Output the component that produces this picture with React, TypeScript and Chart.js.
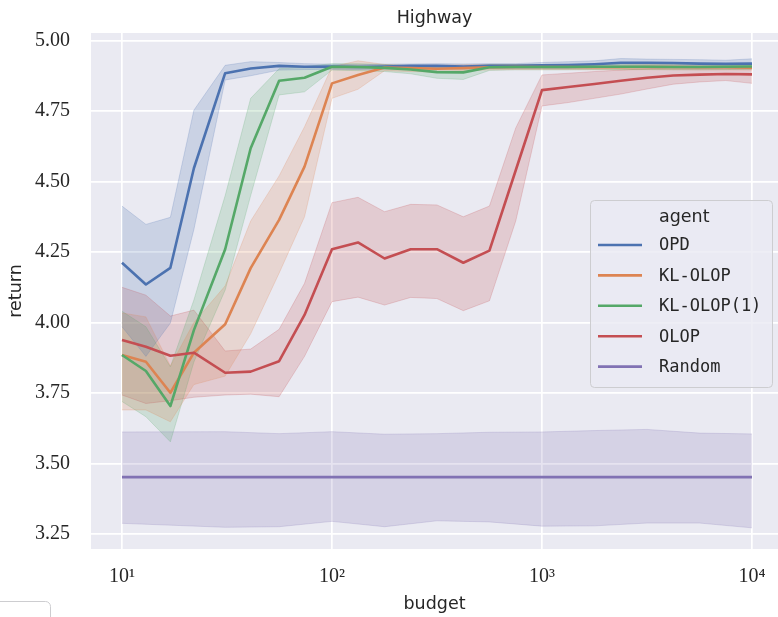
import { useEffect, useRef } from "react";
import { Chart, registerables } from "chart.js";

Chart.register(...registerables);

// ---------- data ----------
const BUDGET = [10, 13, 17, 22, 31, 41, 56, 74, 100, 133, 178, 237, 316, 422, 562, 750, 1000, 1334, 1778, 2371, 3162, 4217, 5623, 7499, 10000];

const OPD_MEAN = [4.212, 4.135, 4.194, 4.547, 4.884, 4.901, 4.910, 4.907, 4.908, 4.906, 4.908, 4.910, 4.910, 4.908, 4.910, 4.910, 4.912, 4.913, 4.916, 4.921, 4.921, 4.920, 4.918, 4.917, 4.918];
const OPD_UPPER = [4.413, 4.348, 4.373, 4.753, 4.912, 4.925, 4.922, 4.918, 4.916, 4.914, 4.916, 4.917, 4.918, 4.917, 4.918, 4.918, 4.922, 4.925, 4.928, 4.936, 4.934, 4.933, 4.932, 4.930, 4.935];
const OPD_LOWER = [3.985, 3.880, 3.998, 4.330, 4.860, 4.875, 4.895, 4.897, 4.898, 4.897, 4.899, 4.902, 4.902, 4.899, 4.902, 4.902, 4.902, 4.902, 4.904, 4.906, 4.907, 4.906, 4.904, 4.903, 4.902];

const KLOLOP_MEAN = [3.885, 3.861, 3.751, 3.893, 3.994, 4.193, 4.364, 4.553, 4.848, 4.878, 4.904, 4.902, 4.900, 4.902, 4.905, 4.906, 4.906, 4.906, 4.905, 4.905, 4.906, 4.906, 4.905, 4.905, 4.904];
const KLOLOP_UPPER = [4.034, 4.020, 3.846, 4.000, 4.130, 4.360, 4.520, 4.694, 4.907, 4.928, 4.915, 4.912, 4.912, 4.914, 4.915, 4.915, 4.914, 4.914, 4.913, 4.913, 4.914, 4.914, 4.913, 4.913, 4.912];
const KLOLOP_LOWER = [3.690, 3.690, 3.648, 3.780, 3.810, 3.960, 4.175, 4.375, 4.795, 4.827, 4.893, 4.890, 4.888, 4.892, 4.896, 4.897, 4.897, 4.897, 4.896, 4.896, 4.897, 4.897, 4.896, 4.896, 4.895];

const KLOLOP1_MEAN = [3.885, 3.828, 3.704, 3.973, 4.260, 4.618, 4.857, 4.868, 4.907, 4.906, 4.903, 4.897, 4.888, 4.887, 4.905, 4.906, 4.906, 4.906, 4.907, 4.907, 4.907, 4.906, 4.906, 4.907, 4.908];
const KLOLOP1_UPPER = [4.040, 3.985, 3.843, 4.080, 4.450, 4.795, 4.900, 4.907, 4.918, 4.918, 4.915, 4.910, 4.905, 4.905, 4.915, 4.915, 4.915, 4.915, 4.916, 4.916, 4.916, 4.915, 4.915, 4.916, 4.917];
const KLOLOP1_LOWER = [3.720, 3.666, 3.577, 3.860, 4.115, 4.450, 4.807, 4.818, 4.895, 4.893, 4.890, 4.882, 4.866, 4.862, 4.894, 4.896, 4.896, 4.896, 4.897, 4.897, 4.897, 4.896, 4.896, 4.897, 4.898];

const OLOP_MEAN = [3.938, 3.914, 3.882, 3.893, 3.822, 3.826, 3.863, 4.027, 4.260, 4.284, 4.227, 4.260, 4.260, 4.212, 4.255, 4.540, 4.824, 4.835, 4.846, 4.857, 4.868, 4.876, 4.879, 4.881, 4.880];
const OLOP_UPPER = [4.125, 4.097, 4.023, 4.044, 3.899, 3.906, 3.976, 4.139, 4.425, 4.444, 4.393, 4.419, 4.417, 4.375, 4.413, 4.690, 4.878, 4.884, 4.890, 4.895, 4.900, 4.905, 4.906, 4.906, 4.905];
const OLOP_LOWER = [3.743, 3.713, 3.723, 3.735, 3.743, 3.746, 3.737, 3.880, 4.074, 4.090, 4.062, 4.089, 4.085, 4.042, 4.077, 4.360, 4.768, 4.780, 4.795, 4.810, 4.828, 4.845, 4.853, 4.858, 4.848];

const RANDOM_BUDGET = [10, 31, 56, 100, 178, 316, 562, 1000, 1778, 3162, 5623, 10000];
const RANDOM_MEAN = [3.452, 3.452, 3.452, 3.452, 3.452, 3.452, 3.452, 3.452, 3.452, 3.452, 3.452, 3.452];
const RANDOM_UPPER = [3.612, 3.613, 3.606, 3.613, 3.604, 3.606, 3.611, 3.612, 3.617, 3.621, 3.608, 3.605];
const RANDOM_LOWER = [3.288, 3.274, 3.276, 3.295, 3.276, 3.297, 3.293, 3.278, 3.279, 3.289, 3.289, 3.272];

const AGENTS = ["OPD", "KL-OLOP", "KL-OLOP(1)", "OLOP", "Random"];
const X_TICKS = [10, 100, 1000, 10000];
const X_TICK_LABELS = ["10¹", "10²", "10³", "10⁴"];
const Y_TICKS = [3.25, 3.5, 3.75, 4.0, 4.25, 4.5, 4.75, 5.0];

// ---------- styling ----------
const COLORS = ["76,114,176", "221,132,82", "85,168,104", "196,78,82", "129,114,179"];
const TEXT = "#262626";
const BG = "#EAEAF2";

const SERIES = [
  { name: AGENTS[0], x: BUDGET, mean: OPD_MEAN, upper: OPD_UPPER, lower: OPD_LOWER, color: COLORS[0] },
  { name: AGENTS[1], x: BUDGET, mean: KLOLOP_MEAN, upper: KLOLOP_UPPER, lower: KLOLOP_LOWER, color: COLORS[1] },
  { name: AGENTS[2], x: BUDGET, mean: KLOLOP1_MEAN, upper: KLOLOP1_UPPER, lower: KLOLOP1_LOWER, color: COLORS[2] },
  { name: AGENTS[3], x: BUDGET, mean: OLOP_MEAN, upper: OLOP_UPPER, lower: OLOP_LOWER, color: COLORS[3] },
  { name: AGENTS[4], x: RANDOM_BUDGET, mean: RANDOM_MEAN, upper: RANDOM_UPPER, lower: RANDOM_LOWER, color: COLORS[4] },
];

const pts = (xs: number[], ys: number[]) => xs.map((x, i) => ({ x, y: ys[i] }));

export default function App() {
  const ref = useRef<HTMLCanvasElement>(null);

  useEffect(() => {
    if (!ref.current) return;

    const bgPlugin = {
      id: "bgArea",
      beforeDraw(chart: any) {
        const { ctx, chartArea } = chart;
        ctx.save();
        ctx.fillStyle = BG;
        ctx.fillRect(chartArea.left, chartArea.top, chartArea.right - chartArea.left, chartArea.bottom - chartArea.top);
        ctx.restore();
      },
    };

    const legendPlugin = {
      id: "legendBox",
      afterDraw(chart: any) {
        const ctx = chart.ctx as CanvasRenderingContext2D;
        ctx.save();
        // legend frame
        ctx.beginPath();
        (ctx as any).roundRect(590.5, 200.5, 182, 187, 4);
        ctx.fillStyle = "rgba(234,234,242,0.8)";
        ctx.fill();
        ctx.strokeStyle = "#CDCDD0";
        ctx.lineWidth = 1;
        ctx.stroke();

        ctx.fillStyle = TEXT;
        ctx.textBaseline = "middle";
        ctx.textAlign = "left";
        ctx.font = "17.5px 'DejaVu Sans'";
        ctx.fillText("agent", 659, 217);

        ctx.font = "17px 'DejaVu Sans Mono'";
        AGENTS.forEach((name, i) => {
          const y = 245 + i * 30.4;
          ctx.strokeStyle = `rgb(${COLORS[i]})`;
          ctx.lineWidth = 2.6;
          ctx.lineCap = "butt";
          ctx.beginPath();
          ctx.moveTo(598, y);
          ctx.lineTo(642, y);
          ctx.stroke();
          ctx.fillStyle = TEXT;
          ctx.fillText(name, 659, y + 1);
        });

        // partial frame visible at bottom-left of the reference
        ctx.beginPath();
        (ctx as any).roundRect(-10.5, 601.5, 61, 40, 5);
        ctx.strokeStyle = "#CDCDD0";
        ctx.lineWidth = 1;
        ctx.stroke();
        ctx.restore();
      },
    };

    const datasets: any[] = [];
    SERIES.forEach((s) => {
      datasets.push({
        label: s.name + " upper",
        data: pts(s.x, s.upper),
        borderColor: `rgba(${s.color},0.22)`,
        borderWidth: 1,
        backgroundColor: `rgba(${s.color},0.2)`,
        fill: "+1",
        pointRadius: 0,
        order: 20,
      });
      datasets.push({
        label: s.name + " lower",
        data: pts(s.x, s.lower),
        borderColor: `rgba(${s.color},0.22)`,
        borderWidth: 1,
        fill: false,
        pointRadius: 0,
        order: 20,
      });
    });
    SERIES.forEach((s, k) => {
      datasets.push({
        label: s.name,
        data: pts(s.x, s.mean),
        borderColor: `rgb(${s.color})`,
        backgroundColor: `rgb(${s.color})`,
        borderWidth: 2.6,
        borderJoinStyle: "round",
        fill: false,
        pointRadius: 0,
        order: 10 - k,
      });
    });

    const chart = new Chart(ref.current, {
      type: "line",
      data: { datasets },
      options: {
        responsive: false,
        devicePixelRatio: 1,
        animation: false,
        events: [],
        layout: { padding: 0 },
        plugins: {
          legend: { display: false },
          tooltip: { enabled: false },
          filler: { drawTime: "beforeDatasetsDraw" },
          title: {
            display: true,
            text: "Highway",
            fullSize: false,
            color: TEXT,
            font: { family: "'DejaVu Sans'", size: 17.5, weight: "normal" },
            padding: { top: 8, bottom: 4 },
          },
        },
        scales: {
          x: {
            type: "logarithmic",
            min: 7.12,
            max: 13300,
            border: { display: false },
            grid: { color: "#FFFFFF", lineWidth: 1.7, drawTicks: false },
            ticks: {
              autoSkip: false,
              maxRotation: 0,
              padding: 16,
              color: TEXT,
              font: { family: "'Liberation Serif'", size: 20 },
              callback: (_v: any, i: number) => X_TICK_LABELS[i],
            },
            title: {
              display: true,
              text: "budget",
              color: TEXT,
              font: { family: "'DejaVu Sans'", size: 17.5 },
              padding: { top: 0, bottom: 2 },
            },
            afterBuildTicks: (s: any) => {
              s.ticks = X_TICKS.map((v) => ({ value: v }));
            },
            afterFit: (s: any) => {
              s.height = 68;
              s.paddingLeft = 0;
              s.paddingRight = 0;
            },
          },
          y: {
            type: "linear",
            min: 3.197,
            max: 5.0266,
            border: { display: false },
            grid: { color: "#FFFFFF", lineWidth: 1.7, drawTicks: false },
            ticks: {
              padding: 21,
              color: TEXT,
              font: { family: "'Liberation Serif'", size: 20 },
              callback: (v: any) => Number(v).toFixed(2),
            },
            title: {
              display: true,
              text: "return",
              color: TEXT,
              font: { family: "'DejaVu Sans'", size: 17.5 },
              padding: { top: 6, bottom: 0 },
            },
            afterBuildTicks: (s: any) => {
              s.ticks = Y_TICKS.map((v) => ({ value: v }));
            },
            afterFit: (s: any) => {
              s.width = 91;
              s.paddingTop = 0;
              s.paddingBottom = 0;
            },
          },
        },
      } as any,
      plugins: [bgPlugin, legendPlugin],
    });

    return () => chart.destroy();
  }, []);

  return (
    <div style={{ position: "fixed", left: 0, top: 0, width: 778, height: 617, background: "#fff", overflow: "hidden" }}>
      <canvas ref={ref} width={778} height={617} style={{ display: "block", width: 778, height: 617 }} />
    </div>
  );
}
